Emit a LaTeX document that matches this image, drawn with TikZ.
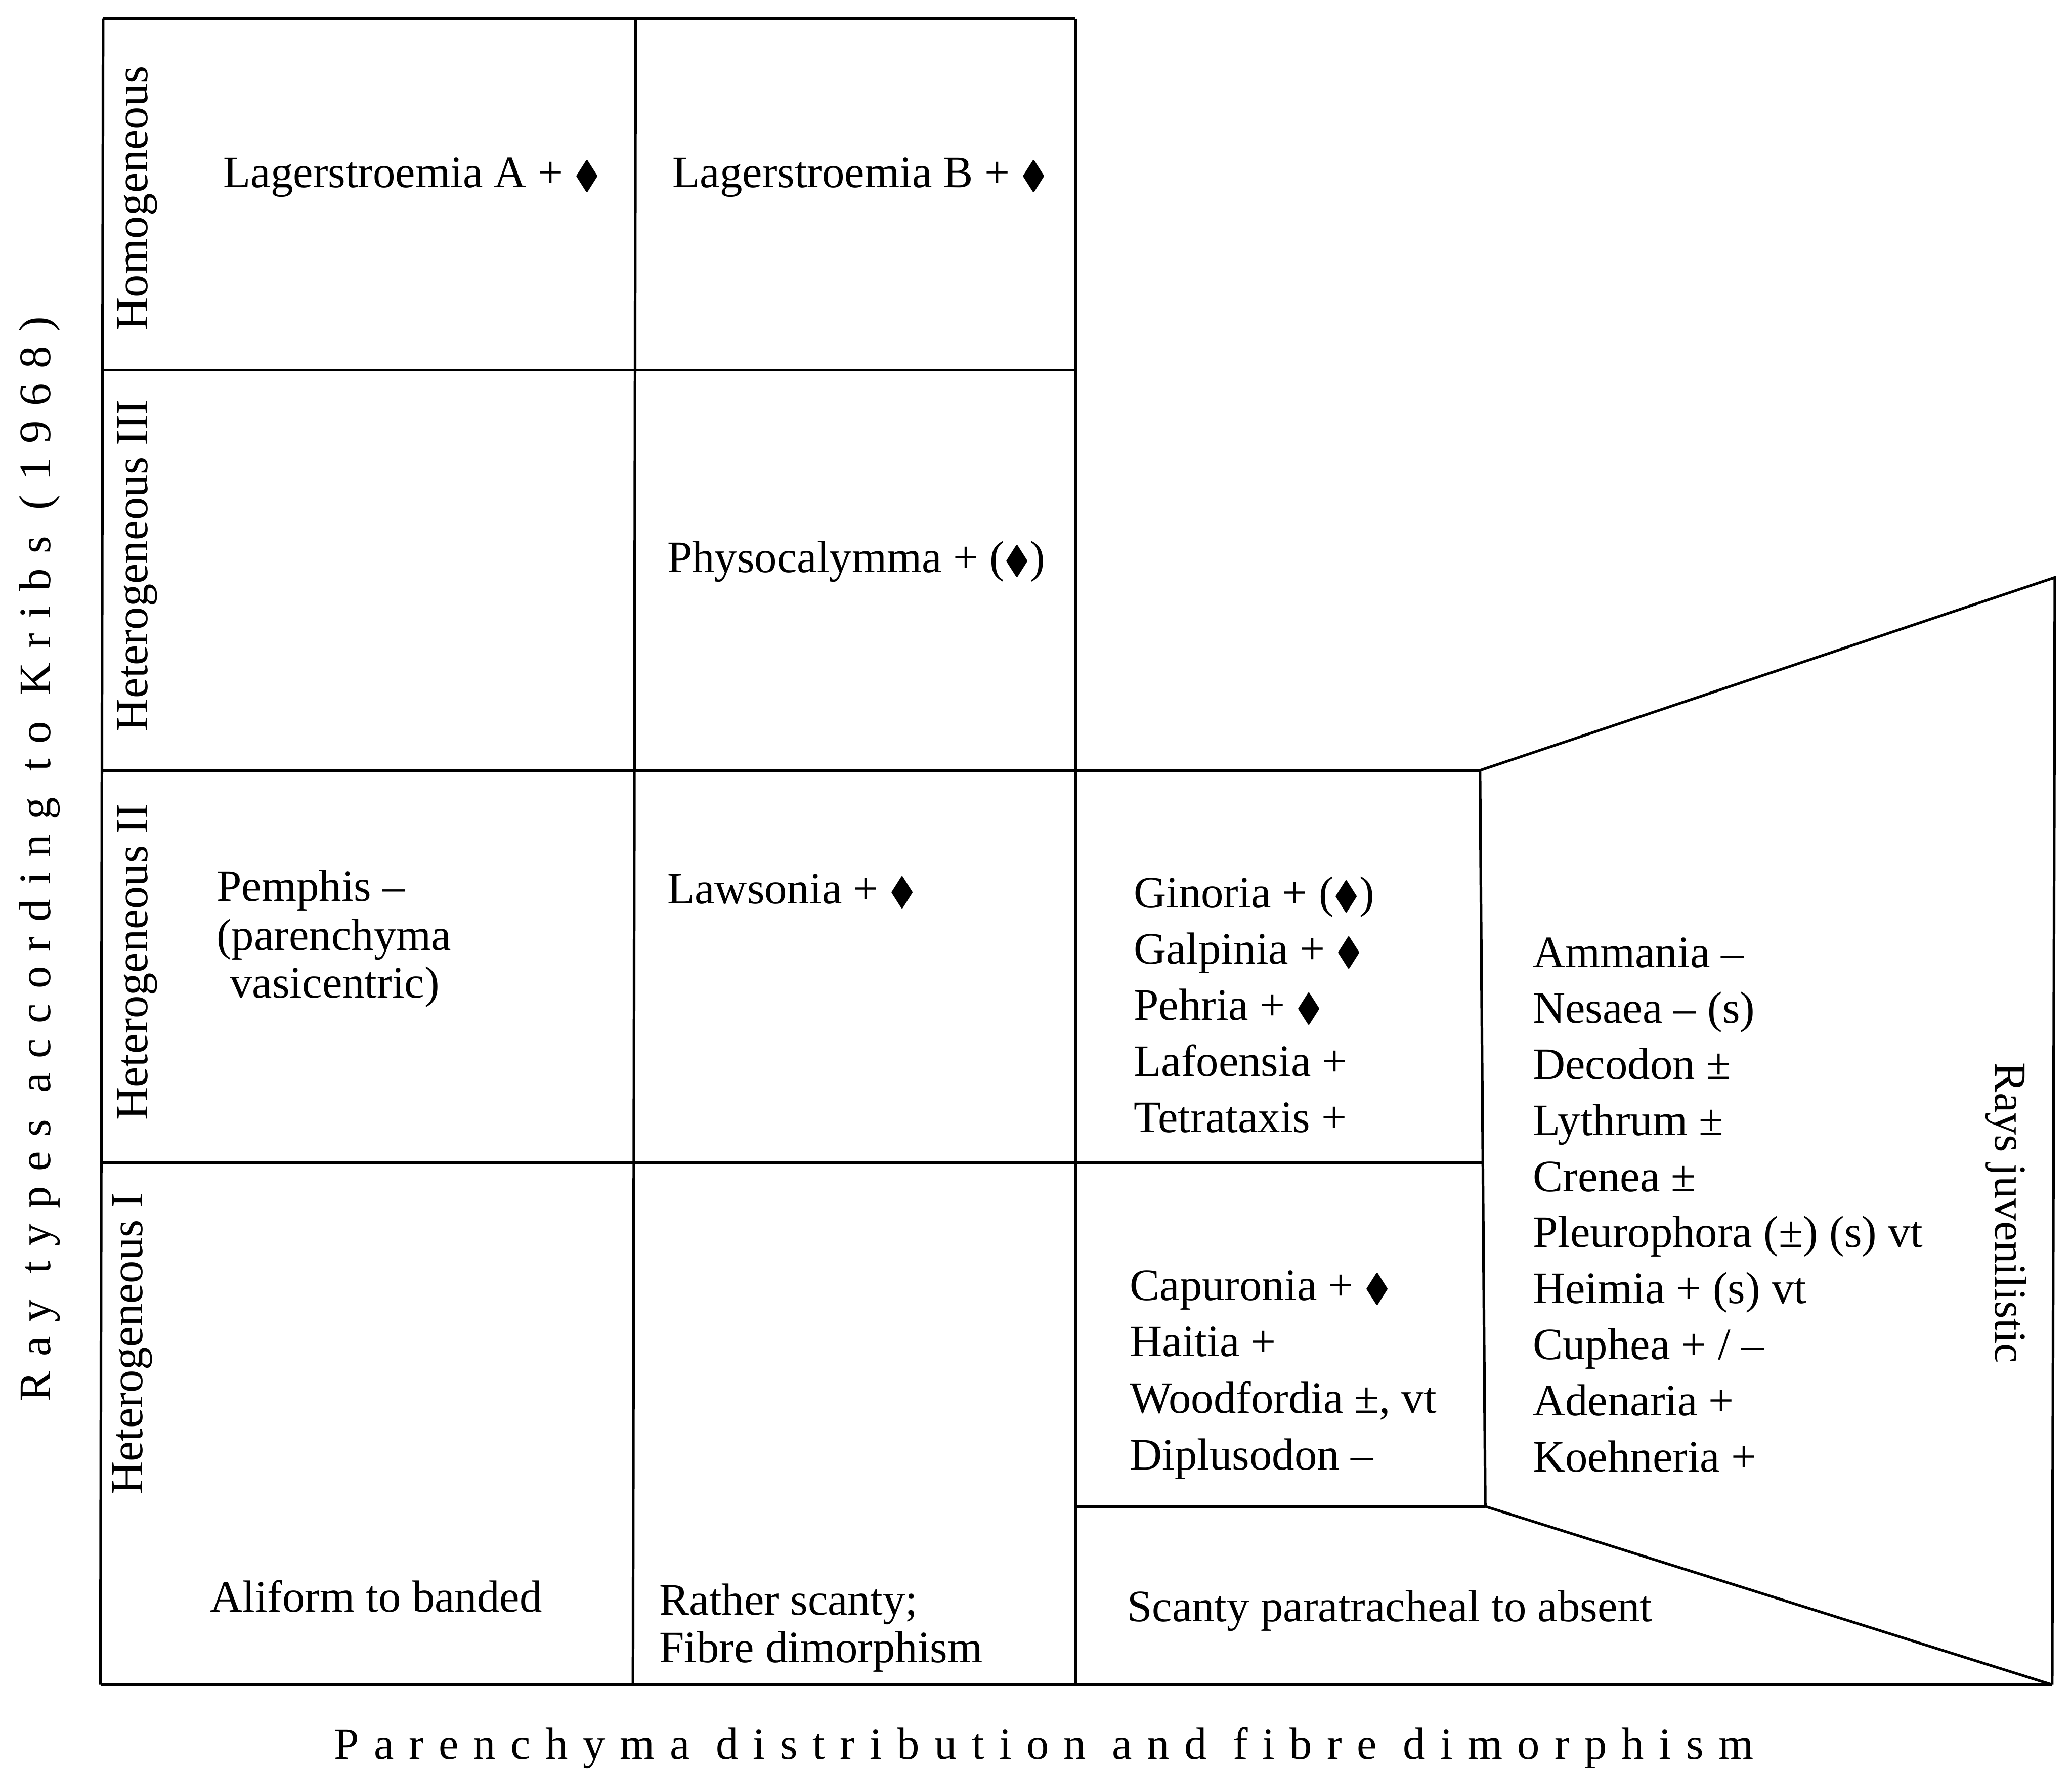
\documentclass[tikz,border=0pt]{standalone}
\usepackage{fontspec}
\usepackage{amssymb}
\setmainfont{Liberation Serif}
\newfontfamily\spacedfont[LetterSpace=33]{Liberation Serif}
\newcommand{\dmd}{\scalebox{0.85}{\ensuremath{\blacklozenge}}}
\begin{document}
\begin{tikzpicture}[x=0.3pt, y=-0.3pt, line width=0.6pt,
		entry/.style={anchor=base west, inner sep=0pt, font=\fontsize{10.2}{12}\selectfont},
		rowlabel/.style={rotate=90, inner sep=0pt, font=\fontsize{10.4}{12}\selectfont},
		axislabel/.style={inner sep=0pt, font={\spacedfont\fontsize{10.2}{12}\selectfont}}]
	\useasboundingbox (0,0) rectangle (1568,1341);
	\draw (78,14) -- (814,14);
	\draw (78,280) -- (814,280);
	\draw (78,583) -- (1120,583);
	\draw (78,880) -- (1122,880);
	\draw (814,1140) -- (1124,1140);
	\draw (76,1275) -- (1553,1275);
	\draw (78,14) -- (76,1275);
	\draw (481,14) -- (479,1275);
	\draw (814,14) -- (814,1275);
	\draw (1120,583) -- (1124,1140);
	\draw (1120,583) -- (1555,437) -- (1553,1275);
	\draw (1124,1140) -- (1553,1275);

	\node[rowlabel] (homo) at (104,150) {Homogeneous};
	\node[rowlabel] (het3) at (104,428) {Heterogeneous III};
	\node[rowlabel] (het2) at (104,728) {Heterogeneous II};
	\node[rowlabel] (het1) at (100,1017) {Heterogeneous I};

	\node[axislabel, rotate=90] (raytypes) at (30,650) {Ray types according to Kribs (1968)};
	\node[axislabel] (parench) at (790,1323) {Parenchyma distribution and fibre dimorphism};
	\node[entry, anchor=center, rotate=-90] (juvenil) at (1518,918) {Rays juvenilistic};

	\node[entry] (lagA) at (168,142) {Lagerstroemia A + \dmd};
	\node[entry] (lagB) at (508,142) {Lagerstroemia B + \dmd};
	\node[entry] (physo) at (504,433) {Physocalymma + (\dmd)};
	\node[entry] (lawso) at (504,684) {Lawsonia + \dmd};

	\node[entry] (pemA) at (163,682) {Pemphis –};
	\node[entry] (pemB) at (163,719) {(parenchyma};
	\node[entry] (pemC) at (173,755) {vasicentric)};

	\node[entry] (alif) at (158,1220) {Aliform to banded};
	\node[entry] (ratherA) at (498,1222) {Rather scanty;};
	\node[entry] (ratherB) at (498,1258) {Fibre dimorphism};
	\node[entry] (scanty) at (852,1227) {Scanty paratracheal to absent};

	\foreach \txt [count=\i from 0] in {{Ginoria + (\dmd)}, {Galpinia + \dmd}, {Pehria + \dmd}, {Lafoensia +}, {Tetrataxis +}}
		{
			\node[entry] (gin\i) at (857, 687+42.5*\i) {\txt};
		}
	\foreach \txt [count=\i from 0] in {{Capuronia + \dmd}, {Haitia +}, {Woodfordia ±, vt}, {Diplusodon –}}
		{
			\node[entry] (cap\i) at (854, 984+42.7*\i) {\txt};
		}
	\foreach \txt [count=\i from 0] in {{Ammania –}, {Nesaea – (s)}, {Decodon ±}, {Lythrum ±}, {Crenea ±}, {Pleurophora (±) (s) vt}, {Heimia + (s) vt}, {Cuphea + / –}, {Adenaria +}, {Koehneria +}}
		{
			\node[entry] (amm\i) at (1159, 732+42.4*\i) {\txt};
		}
\end{tikzpicture}
\end{document}
